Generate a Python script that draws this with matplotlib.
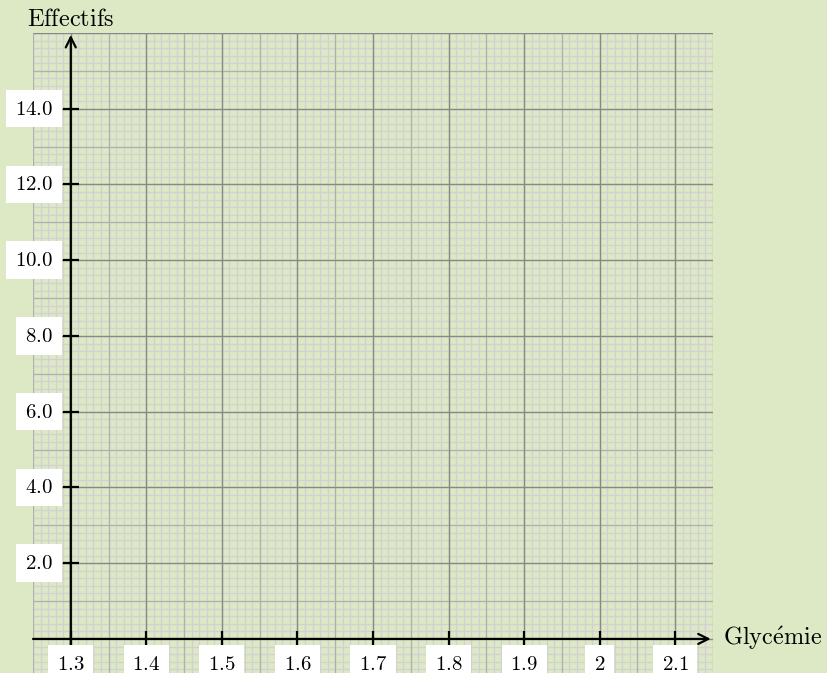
import matplotlib
matplotlib.use("Agg")
import matplotlib.pyplot as plt
import numpy as np

plt.rcParams['mathtext.fontset'] = 'cm'

# Data (axis ticks / labels only; the chart is an empty grid)
x_ticks = [1.3, 1.4, 1.5, 1.6, 1.7, 1.8, 1.9, 2.0, 2.1]
x_tick_labels = ["1.3", "1.4", "1.5", "1.6", "1.7", "1.8", "1.9", "2", "2.1"]
y_ticks = [2, 4, 6, 8, 10, 12, 14]
y_tick_labels = ["2.0", "4.0", "6.0", "8.0", "10.0", "12.0", "14.0"]
x_label = r"$\mathrm{Glyc\acute{e}mie}$"
y_label = r"$\mathrm{Effectifs}$"

xmin, xmax = 1.25, 2.15
ymin, ymax = -1.0, 16.0

W, H = 828, 673
bg = "#dce9c4"
fig = plt.figure(figsize=(W / 100, H / 100), dpi=100, facecolor=bg)
left_px, right_px, top_px, bot_px = 33, 713, 33, 676.8
ax = fig.add_axes([left_px / W, (H - bot_px) / H, (right_px - left_px) / W, (bot_px - top_px) / H])
ax.set_facecolor(bg)
ax.set_xlim(xmin, xmax)
ax.set_ylim(ymin, ymax)
ax.axis('off')

# grid lines
def vgrid(step, color, lw, z):
    n0 = int(np.ceil(round(xmin / step, 6)))
    n1 = int(np.floor(round(xmax / step, 6)))
    for k in range(n0, n1 + 1):
        ax.plot([k * step, k * step], [ymin, ymax], color=color, lw=lw, zorder=z, solid_capstyle='butt')

def hgrid(step, color, lw, z):
    n0 = int(np.ceil(round(ymin / step, 6)))
    n1 = int(np.floor(round(ymax / step, 6)))
    for k in range(n0, n1 + 1):
        ax.plot([xmin, xmax], [k * step, k * step], color=color, lw=lw, zorder=z, solid_capstyle='butt')

vgrid(0.01, "#d2d0d3", 0.9, 1)
hgrid(0.2, "#d2d0d3", 0.9, 1)
vgrid(0.05, "#b0b0b0", 0.9, 2)
hgrid(1.0, "#b0b0b0", 0.9, 2)
vgrid(0.1, "#888888", 0.9, 3)
hgrid(2.0, "#888888", 0.9, 3)

# axes with arrows
ax.annotate("", xy=(2.147, 0), xytext=(xmin, 0),
            arrowprops=dict(arrowstyle='->', lw=1.6, color='black', mutation_scale=18,
                            shrinkA=0, shrinkB=0), zorder=5, annotation_clip=False)
ax.annotate("", xy=(1.3, 15.95), xytext=(1.3, ymin),
            arrowprops=dict(arrowstyle='->', lw=1.6, color='black', mutation_scale=18,
                            shrinkA=0, shrinkB=0), zorder=5, annotation_clip=False)

# ticks
ax.plot(x_ticks, [0] * len(x_ticks), ls='none', marker='|', ms=11, mew=1.6, color='black', zorder=6)
ax.plot([1.3] * len(y_ticks), y_ticks, ls='none', marker='_', ms=11, mew=1.6, color='black', zorder=6)

fs = 15
box = dict(boxstyle='square,pad=0.42', fc='white', ec='none')
for xv, lab in zip(x_ticks, x_tick_labels):
    ax.annotate(f"${lab}$", xy=(xv, 0), xytext=(0, -15), textcoords='offset pixels',
                ha='center', va='top', fontsize=fs, bbox=box, zorder=7, annotation_clip=False)
for yv, lab in zip(y_ticks, y_tick_labels):
    ax.annotate(f"${lab}$", xy=(1.3, yv), xytext=(-18, 0), textcoords='offset pixels',
                ha='right', va='center', fontsize=fs, bbox=box, zorder=7, annotation_clip=False)

fig.text(27 / W, 1 - 26 / H, y_label, ha='left', va='baseline', fontsize=17.5)
fig.text(723 / W, 1 - 645 / H, x_label, ha='left', va='baseline', fontsize=17.5)

fig.savefig("out.png", dpi=100, facecolor=bg)
